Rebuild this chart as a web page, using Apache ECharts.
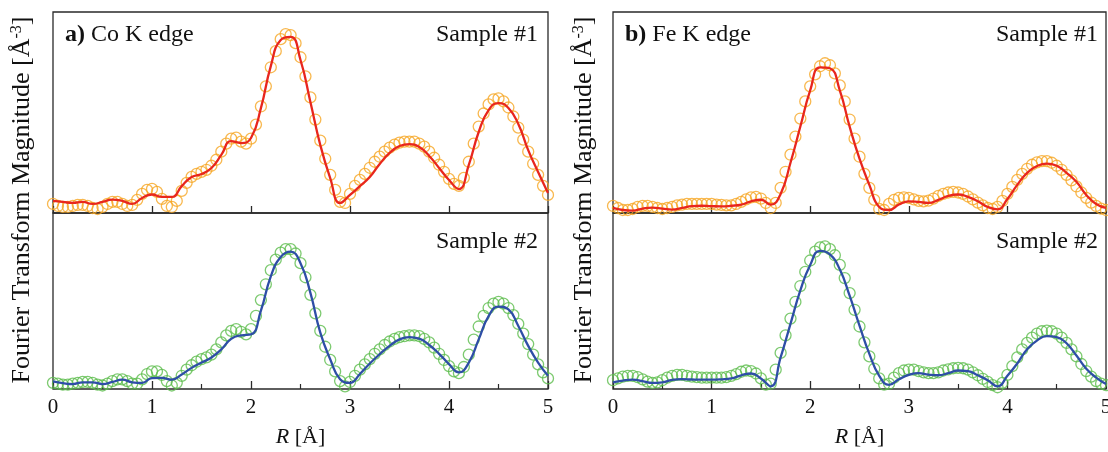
<!DOCTYPE html>
<html>
<head>
<meta charset="utf-8">
<script src="https://cdn.jsdelivr.net/npm/echarts@6/dist/echarts.min.js"></script>
<style>
html, body { margin: 0; padding: 0; background: #fff; }
#chart { width: 1108px; height: 452px; }
</style>
</head>
<body>
<div id="chart"></div>
<script>
// R grid of the measured points (circles) and of the fits (lines)
var rExp = [0,0.05,0.1,0.15,0.2,0.25,0.3,0.35,0.4,0.45,
    0.5,0.55,0.6,0.65,0.7,0.75,0.8,0.85,0.9,0.95,
    1,1.05,1.1,1.15,1.2,1.25,1.3,1.35,1.4,1.45,
    1.5,1.55,1.6,1.65,1.7,1.75,1.8,1.85,1.9,1.95,
    2,2.05,2.1,2.15,2.2,2.25,2.3,2.35,2.4,2.45,
    2.5,2.55,2.6,2.65,2.7,2.75,2.8,2.85,2.9,2.95,
    3,3.05,3.1,3.15,3.2,3.25,3.3,3.35,3.4,3.45,
    3.5,3.55,3.6,3.65,3.7,3.75,3.8,3.85,3.9,3.95,
    4,4.05,4.1,4.15,4.2,4.25,4.3,4.35,4.4,4.45,
    4.5,4.55,4.6,4.65,4.7,4.75,4.8,4.85,4.9,4.95,5];
var rFit = [0,0.1,0.2,0.3,0.4,0.5,0.6,0.7,0.8,0.9,
    1,1.1,1.2,1.3,1.4,1.5,1.6,1.7,1.8,1.9,
    2,2.1,2.2,2.3,2.4,2.5,2.6,2.7,2.8,2.9,
    3,3.1,3.2,3.3,3.4,3.5,3.6,3.7,3.8,3.9,
    4,4.1,4.2,4.3,4.4,4.5,4.6,4.7,4.8,4.9,5];

// a) Co K edge
var coExp1 = [0.45,0.35,0.30,0.30,0.35,0.40,0.40,0.35,0.25,0.20,
    0.30,0.45,0.55,0.55,0.45,0.35,0.40,0.65,0.95,1.15,
    1.20,1.05,0.70,0.35,0.30,0.60,1.10,1.50,1.80,1.95,
    2.05,2.15,2.35,2.65,3.05,3.45,3.70,3.75,3.55,3.45,
    3.70,4.40,5.30,6.30,7.25,8.05,8.65,8.90,8.85,8.45,
    7.75,6.80,5.75,4.65,3.60,2.70,1.90,1.15,0.55,0.50,
    0.95,1.35,1.65,1.95,2.25,2.55,2.80,3.05,3.25,3.40,
    3.50,3.55,3.55,3.55,3.45,3.30,3.05,2.75,2.40,2.05,
    1.70,1.45,1.35,1.75,2.55,3.45,4.30,4.95,5.40,5.65,
    5.70,5.55,5.25,4.80,4.25,3.65,3.05,2.45,1.90,1.35,0.90];
var coFit1 = [0.60,0.55,0.50,0.55,0.45,0.55,0.67,0.60,0.45,0.75,
    0.92,0.80,0.80,1.34,1.79,1.94,2.24,2.89,3.58,3.48,
    3.73,5.22,7.31,8.61,8.76,7.61,5.52,3.38,1.74,0.50,
    0.90,1.34,1.79,2.44,2.99,3.33,3.43,3.28,2.84,2.24,
    1.64,1.19,2.39,4.03,5.12,5.47,5.22,4.43,3.13,2.04,1.00];
var coExp2 = [0.35,0.30,0.25,0.25,0.30,0.35,0.40,0.40,0.35,0.25,
    0.20,0.30,0.45,0.55,0.55,0.45,0.30,0.30,0.55,0.85,
    1.00,1.00,0.80,0.45,0.20,0.35,0.75,1.10,1.35,1.55,
    1.70,1.80,1.95,2.25,2.65,3.05,3.30,3.40,3.25,3.10,
    3.40,4.15,5.05,5.95,6.75,7.35,7.75,7.95,7.95,7.70,
    7.15,6.35,5.35,4.30,3.30,2.40,1.65,1.00,0.45,0.15,
    0.40,0.75,1.10,1.40,1.70,2.00,2.25,2.50,2.70,2.85,
    2.95,3.00,3.05,3.05,3.00,2.85,2.65,2.35,2.00,1.65,
    1.30,1.00,0.90,1.25,1.95,2.80,3.55,4.15,4.60,4.85,
    4.95,4.85,4.60,4.20,3.70,3.15,2.55,1.95,1.40,0.95,0.60];
var coFit2 = [0.43,0.33,0.28,0.38,0.38,0.28,0.40,0.53,0.38,0.35,
    0.62,0.63,0.53,0.82,1.20,1.50,1.79,2.25,2.85,3.05,
    3.10,4.45,6.40,7.50,7.80,7.15,5.46,3.20,1.69,0.56,
    0.35,0.85,1.45,1.98,2.45,2.82,2.95,2.86,2.50,2.00,
    1.41,0.94,1.50,2.82,4.14,4.68,4.52,3.58,2.45,1.50,0.75];

// b) Fe K edge
var feExp1 = [0.35,0.25,0.15,0.15,0.20,0.30,0.35,0.35,0.30,0.25,
    0.20,0.25,0.30,0.38,0.42,0.45,0.45,0.45,0.45,0.45,
    0.45,0.42,0.40,0.38,0.38,0.45,0.55,0.68,0.78,0.80,
    0.72,0.50,0.25,0.50,1.25,2.05,2.90,3.80,4.70,5.55,
    6.30,6.90,7.30,7.45,7.35,6.95,6.35,5.55,4.65,3.70,
    2.80,1.95,1.25,0.65,0.20,0.15,0.45,0.65,0.75,0.78,
    0.75,0.68,0.60,0.58,0.62,0.72,0.85,0.95,1.02,1.05,
    1.02,0.95,0.82,0.68,0.52,0.38,0.25,0.20,0.30,0.60,
    0.95,1.30,1.65,1.95,2.20,2.40,2.52,2.58,2.58,2.50,
    2.35,2.15,1.90,1.62,1.32,1.02,0.75,0.52,0.35,0.22,0.15];
var feFit1 = [0.25,0.15,0.12,0.22,0.27,0.22,0.17,0.25,0.34,0.36,
    0.34,0.33,0.36,0.42,0.58,0.66,0.42,0.95,2.50,4.30,
    6.10,7.25,7.20,6.10,4.30,2.70,1.40,0.30,0.15,0.42,
    0.58,0.55,0.50,0.65,0.85,0.92,0.80,0.58,0.30,0.18,
    0.70,1.40,2.00,2.34,2.46,2.35,2.00,1.55,0.90,0.45,0.25];
var feExp2 = [0.50,0.60,0.70,0.75,0.75,0.68,0.55,0.42,0.35,0.38,
    0.50,0.65,0.75,0.80,0.80,0.75,0.70,0.68,0.65,0.65,
    0.65,0.65,0.65,0.68,0.75,0.85,0.98,1.05,1.02,0.88,
    0.60,0.25,0.30,1.10,2.05,3.05,4.00,4.95,5.85,6.65,
    7.30,7.80,8.05,8.10,7.95,7.60,7.05,6.30,5.45,4.50,
    3.55,2.65,1.85,1.15,0.60,0.25,0.30,0.65,0.90,1.05,
    1.10,1.10,1.02,0.95,0.90,0.90,0.95,1.05,1.12,1.18,
    1.20,1.18,1.10,0.95,0.78,0.58,0.40,0.22,0.10,0.35,
    0.80,1.30,1.80,2.25,2.62,2.92,3.15,3.28,3.32,3.28,
    3.15,2.92,2.62,2.25,1.85,1.42,1.02,0.70,0.45,0.30,0.22];
var feFit2 = [0.38,0.48,0.53,0.45,0.35,0.38,0.52,0.56,0.54,0.53,
    0.53,0.55,0.60,0.78,0.88,0.60,0.15,1.80,3.70,5.60,
    7.05,7.85,7.65,6.80,5.30,3.60,2.00,0.75,0.24,0.55,
    0.80,0.90,0.82,0.78,0.90,1.05,1.02,0.78,0.50,0.15,
    0.75,1.45,2.26,2.75,3.00,2.95,2.60,1.90,1.15,0.65,0.28];

var panelLetters = ['a)', 'b)'];
var panelEdges = ['Co K edge', 'Fe K edge'];
var sampleNames = ['Sample #1', 'Sample #2'];

var serif = 'Liberation Serif';
var ink = '#111';
var expColors = ['#f6a623', '#5cbd4c'];
var fitColors = ['#e8261d', '#2e4ea6'];

function zip(xs, ys) {
    return ys.map(function (v, i) { return [xs[i], v]; });
}

// grid order: Co #1, Co #2, Fe #1, Fe #2
var panels = [
    {exp: coExp1, fit: coFit1, row: 0},
    {exp: coExp2, fit: coFit2, row: 1},
    {exp: feExp1, fit: feFit1, row: 0},
    {exp: feExp2, fit: feFit2, row: 1}
];
var lefts = [53, 53, 613, 613];
var widths = [495, 495, 493, 493];

var grids = [], xAxes = [], yAxes = [], series = [];
panels.forEach(function (p, i) {
    var bottom = p.row === 1;
    grids.push({
        left: lefts[i], width: widths[i],
        top: bottom ? 213 : 12, height: bottom ? 176 : 201,
        outerBoundsMode: 'none',
        show: true, borderColor: '#2a2a2a', borderWidth: 1.3, backgroundColor: 'transparent'
    });
    xAxes.push({
        gridIndex: i, type: 'value', min: 0, max: 5, interval: 1,
        axisLine: {show: false},
        axisTick: {show: true, inside: true, length: bottom ? 8 : 7, lineStyle: {color: '#2a2a2a', width: 1.3}},
        minorTick: {show: bottom, splitNumber: 2, length: 5, lineStyle: {color: '#2a2a2a', width: 1.2}},
        splitLine: {show: false},
        axisLabel: {show: bottom, margin: 8, fontFamily: serif, fontSize: 21, color: ink},
        name: bottom ? '{i|R} [Å]' : '',
        nameLocation: 'middle', nameGap: 37,
        nameTextStyle: {
            fontFamily: serif, fontSize: 22, color: ink,
            rich: {i: {fontFamily: serif, fontSize: 22, fontStyle: 'italic', color: ink}}
        }
    });
    yAxes.push({gridIndex: i, type: 'value', min: 0, max: 10, show: false});
    series.push({
        type: 'scatter', xAxisIndex: i, yAxisIndex: i,
        data: zip(rExp, p.exp),
        symbol: 'circle', symbolSize: 11,
        itemStyle: {color: 'rgba(0,0,0,0)', borderColor: expColors[p.row], borderWidth: 1.3},
        z: 2, silent: true
    });
    series.push({
        type: 'line', xAxisIndex: i, yAxisIndex: i,
        data: zip(rFit, p.fit),
        smooth: 0.5, showSymbol: false,
        lineStyle: {color: fitColors[p.row], width: 2.3},
        z: 3, silent: true
    });
});

var graphics = [];
[0, 1].forEach(function (k) {
    var x0 = k === 0 ? 0 : 560;
    graphics.push({
        type: 'text', x: x0 + 65, y: 35,
        style: {
            text: '{b|' + panelLetters[k] + '} ' + panelEdges[k],
            font: '24px ' + serif, fill: ink, align: 'left', verticalAlign: 'middle',
            rich: {b: {fontFamily: serif, fontSize: 24, fontWeight: 'bold', fill: ink}}
        }
    });
    var xr = k === 0 ? 538 : 1098;
    graphics.push({
        type: 'text', x: xr, y: 35,
        style: {text: sampleNames[0], font: '24px ' + serif, fill: ink, align: 'right', verticalAlign: 'middle'}
    });
    graphics.push({
        type: 'text', x: xr, y: 242,
        style: {text: sampleNames[1], font: '24px ' + serif, fill: ink, align: 'right', verticalAlign: 'middle'}
    });
    graphics.push({
        type: 'text', x: k === 0 ? 22 : 584, y: 200, rotation: Math.PI / 2,
        style: {
            text: '{t|Fourier Transform Magnitude [Å}{s|-3}{t|]}',
            fill: ink, align: 'center', verticalAlign: 'middle',
            rich: {
                t: {fontFamily: serif, fontSize: 26, fill: ink},
                s: {fontFamily: serif, fontSize: 16, fill: ink, verticalAlign: 'top'}
            }
        }
    });
});

var chart = echarts.init(document.getElementById('chart'));
chart.setOption({
    animation: false,
    backgroundColor: '#fff',
    grid: grids,
    xAxis: xAxes,
    yAxis: yAxes,
    series: series,
    graphic: graphics
});
</script>
</body>
</html>
